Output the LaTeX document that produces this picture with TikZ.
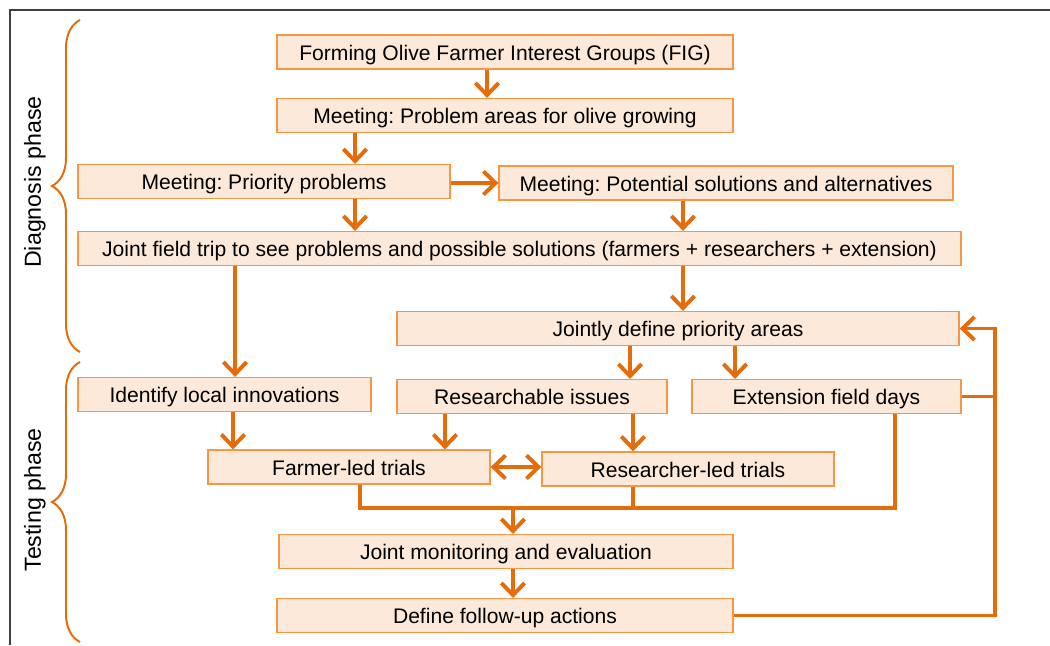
\documentclass[tikz,border=0pt]{standalone}
\usepackage{fontspec}
\setmainfont{Liberation Sans}
\usetikzlibrary{arrows.meta,decorations.pathreplacing}
\definecolor{figorange}{HTML}{E46C0A}
\definecolor{boxline}{HTML}{F79646}
\definecolor{boxfill}{HTML}{FDE9D9}
\frenchspacing
\begin{document}
\begin{tikzpicture}[x=0.025cm,y=-0.025cm,>={Straight Barb[length=3mm,width=5.8mm]},
        box/.style={draw=boxline, line width=0.9pt, fill=boxfill, minimum height=0.85cm, inner sep=0pt, text height=14.5pt, text depth=2.5pt, font=\fontsize{15}{18}\selectfont},
        link/.style={draw=figorange, line width=2.8pt},
        phase/.style={draw=figorange, line width=1.4pt, decorate, decoration={brace, amplitude=0.7cm}},
        phaselabel/.style={rotate=90, font=\fontsize{16.5}{19}\selectfont}]
        \useasboundingbox (0,0) rectangle (1050,645);
        \draw[black!75, line width=0.8pt] (10,645) -- (10,10) -- (1050,10);

        % phases
        \draw[phase] (80,352) -- (80,20);
        \draw[phase] (80,642) -- (80,362);
        \node[phaselabel] (diag) at (35,182) {Diagnosis phase};
        \node[phaselabel] (test) at (35,500) {Testing phase};

        % steps
        \node[box, minimum width=11.4cm] (fig) at (505,52) {Forming Olive Farmer Interest Groups (FIG)};
        \node[box, minimum width=11.4cm] (prob) at (505,115.5) {Meeting: Problem areas for olive growing};
        \node[box, minimum width=9.3cm] (prio) at (264,181.5) {Meeting: Priority problems};
        \node[box, minimum width=11.35cm] (pot) at (726,183) {Meeting: Potential solutions and alternatives};
        \node[box, minimum width=22.075cm] (trip) at (519.5,248.5) {Joint field trip to see problems and possible solutions (farmers + researchers + extension)};
        \node[box, minimum width=14.05cm] (areas) at (678,328.5) {Jointly define priority areas};
        \node[box, minimum width=7.325cm] (local) at (224.5,394.5) {Identify local innovations};
        \node[box, minimum width=6.75cm] (issues) at (532,396.5) {Researchable issues};
        \node[box, minimum width=6.725cm] (ext) at (826.5,396.5) {Extension field days};
        \node[box, minimum width=7.05cm] (farm) at (349,467) {Farmer-led trials};
        \node[box, minimum width=7.3cm] (res) at (688,469) {Researcher-led trials};
        \node[box, minimum width=11.35cm] (mon) at (506,551.5) {Joint monitoring and evaluation};
        \node[box, minimum width=11.4cm] (follow) at (505,615.5) {Define follow-up actions};

        \coordinate (join) at (513,508);
        \coordinate (fb) at (995,328.5);

        % connectors
        \draw[link, ->] (fig.south -| 487,0) -- (prob.north -| 487,0);
        \draw[link, ->] (prob.south -| 355,0) -- (prio.north -| 355,0);
        \draw[link, ->] (prio.east |- pot.west) -- (pot.west);
        \draw[link, ->] (prio.south -| 355,0) -- (trip.north -| 355,0);
        \draw[link, ->] (pot.south -| 683,0) -- (trip.north -| 683,0);
        \draw[link, ->] (trip.south -| 683,0) -- (areas.north -| 683,0);
        \draw[link, ->] (trip.south -| 235,0) -- (local.north -| 235,0);
        \draw[link, ->] (local.south -| 233,0) -- (farm.north -| 233,0);
        \draw[link, ->] (areas.south -| 630,0) -- (issues.north -| 630,0);
        \draw[link, ->] (areas.south -| 735,0) -- (ext.north -| 735,0);
        \draw[link, ->] (issues.south -| 445,0) -- (farm.north -| 445,0);
        \draw[link, ->] (issues.south -| 633,0) -- (res.north -| 633,0);
        \draw[link, <->] (farm.east) -- (farm.east -| res.west);
        \draw[link] (farm.south -| 360,0) |- (join) -| (ext.south -| 895,0);
        \draw[link] (res.south -| 633,0) -- (join -| 633,0);
        \draw[link, ->] (join) -- (mon.north -| join);
        \draw[link, ->] (mon.south -| 513,0) -- (follow.north -| 513,0);
        \draw[link, ->] (follow.east) -| (fb) -- (areas.east);
        \draw[link] (ext.east) -- (ext.east -| fb);
    \end{tikzpicture}
\end{document}
